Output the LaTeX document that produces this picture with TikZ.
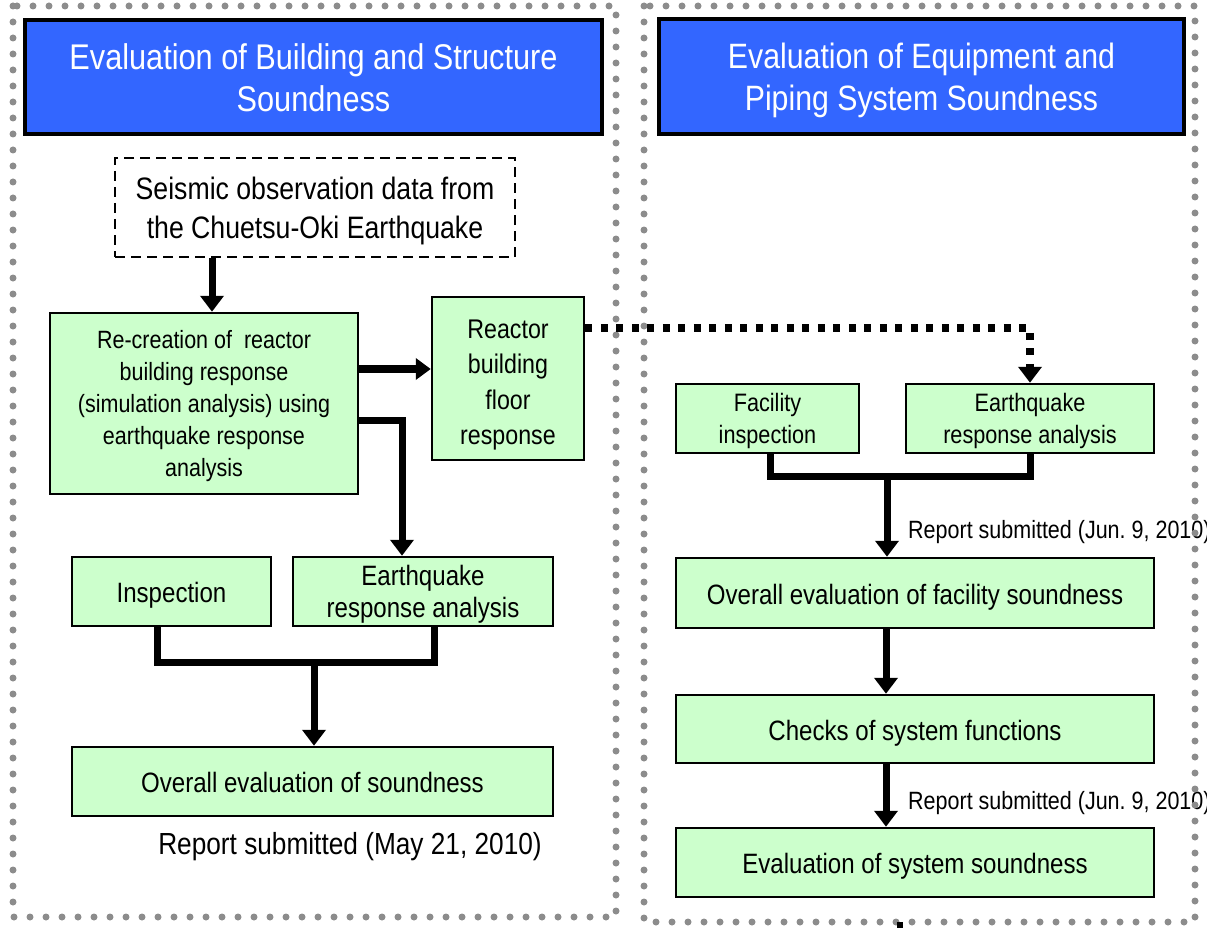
\documentclass[tikz,border=0pt]{standalone}
\usepackage{fontspec}
\setmainfont{Liberation Sans}[FakeStretch=0.86]
\usetikzlibrary{arrows.meta,calc}
\definecolor{titleblue}{HTML}{3366FF}
\definecolor{boxgreen}{HTML}{CCFFCC}
\definecolor{dotgrey}{HTML}{8C8C8C}
\frenchspacing
\tikzset{
  frame/.style={draw=dotgrey,line width=7pt,line cap=round,dash pattern=on 0pt off 16pt},
  titlebox/.style={draw=black,line width=4pt,fill=titleblue,text=white,align=center,inner sep=0pt,
    font=\fontsize{35.7}{42.5}\selectfont},
  gbox/.style={draw=black,line width=2.5pt,fill=boxgreen,align=center,inner sep=0pt,
    font=\fontsize{26}{32}\selectfont},
  onel/.style={text height=22pt,text depth=0pt},
  dbox/.style={draw=black,line width=2.5pt,dash pattern=on 10pt off 6pt,align=center,inner sep=0pt,
    font=\fontsize{31}{39}\selectfont},
  conn/.style={line width=7pt,line join=miter,line cap=butt},
  arr/.style={conn,-{Triangle[width=23pt,length=16pt]}},
  dotarr/.style={line width=7.5pt,dash pattern=on 7pt off 8.5pt,line cap=butt,
    -{Triangle[width=23pt,length=16pt]}},
  lbl/.style={inner sep=0pt,font=\fontsize{25}{30}\selectfont},
}
\begin{document}
\begin{tikzpicture}[x=1pt,y=-1pt]
\useasboundingbox (0,0) rectangle (1207,928);
% report labels (under frames)
\node[lbl,anchor=west] (r1) at (908,532) {Report submitted (Jun. 9, 2010)};
\node[lbl,anchor=west] (r2) at (908,803) {Report submitted (Jun. 9, 2010)};
\node[lbl,font=\fontsize{30.5}{34}\selectfont] (r3) at (350,847) {Report submitted (May 21, 2010)};
% frames
\draw[frame] (13,6) rectangle (616,917);
\draw[frame] (644,6) rectangle (1195,922);
% titles
\node[titlebox,minimum width=577pt,minimum height=114pt] (t1) at (313.5,77.5) {Evaluation of Building and Structure\\Soundness};
\node[titlebox,font=\fontsize{35.2}{42.5}\selectfont,minimum width=525pt,minimum height=115pt] (t2) at (921.5,76.5) {Evaluation of Equipment and\\\smash{Piping System Soundness}};
% left column
\node[dbox,minimum width=400pt,minimum height=99pt] (seis) at (315,207.5) {Seismic observation data from\\\smash{the Chuetsu-Oki Earthquake}};
\node[gbox,font=\fontsize{25}{32}\selectfont,minimum width=308pt,minimum height=181pt] (rec) at (204,403.5)
  {Re-creation of \ reactor\\building response\\(simulation analysis) using\\earthquake response\\\smash{analysis}};
\node[gbox,font=\fontsize{27}{35.5}\selectfont,minimum width=152pt,minimum height=163pt] (reac) at (508,378.5)
  {\rule{0pt}{25.5pt}Reactor\\building\\floor\\\smash{response}};
\node[gbox,onel,font=\fontsize{28}{32}\selectfont,minimum width=199pt,minimum height=69pt] (insp) at (171.5,591.5) {Inspection};
\node[gbox,font=\fontsize{28}{32}\selectfont,minimum width=260pt,minimum height=69pt] (eq1) at (423,591.5) {Earthquake\\\smash{response analysis}};
\node[gbox,onel,font=\fontsize{28}{32}\selectfont,minimum width=481pt,minimum height=69pt] (ov1) at (312.5,781.5) {Overall evaluation of soundness};
% right column
\node[gbox,font=\fontsize{25.2}{32}\selectfont,minimum width=183pt,minimum height=69pt] (fac) at (767.5,418.5) {Facility\\\smash{inspection}};
\node[gbox,font=\fontsize{25.2}{32}\selectfont,minimum width=248pt,minimum height=69pt] (eq2) at (1030,418.5) {Earthquake\\\smash{response analysis}};
\node[gbox,onel,font=\fontsize{28}{32}\selectfont,minimum width=478pt,minimum height=70pt] (ov2) at (915,593) {Overall evaluation of facility soundness};
\node[gbox,onel,font=\fontsize{28}{32}\selectfont,minimum width=478pt,minimum height=68pt] (chk) at (915,729) {Checks of system functions};
\node[gbox,onel,font=\fontsize{28}{32}\selectfont,minimum width=478pt,minimum height=69pt] (evs) at (915,862.5) {Evaluation of system soundness};
% connectors left
\coordinate (a1) at (212,0);
\draw[arr] (seis.south -| a1) -- (rec.north -| a1);
\coordinate (h1) at (0,369);
\draw[arr,line width=8pt,-{Triangle[width=21pt,length=15pt]}] (rec.east |- h1) -- (reac.west |- h1);
\coordinate (e1) at (402,420);
\draw[arr] (rec.east |- e1) -| (eq1.north -| e1);
\coordinate (jl) at (157,662);
\coordinate (jr) at (434,662);
\coordinate (jm) at (314,662);
\draw[conn] (insp.south -| jl) -- (jl) -- (jr) -- (eq1.south -| jr);
\draw[arr] (jm) -- (ov1.north -| jm);
% dotted connector
\coordinate (d1) at (1030,328);
\draw[dotarr] (reac.east |- d1) -| (eq2.north);
% connectors right
\coordinate (kl) at (770,476);
\coordinate (kr) at (1030,476);
\coordinate (km) at (887,476);
\draw[conn] (fac.south -| kl) -- (kl) -- (kr) -- (eq2.south -| kr);
\draw[arr] (km) -- (ov2.north -| km);
\coordinate (m2) at (886,0);
\draw[arr] (ov2.south -| m2) -- (chk.north -| m2);
\draw[arr] (chk.south -| m2) -- (evs.north -| m2);
% stub at the bottom edge
\fill[black] (897,922) rectangle (903,928);
\end{tikzpicture}
\end{document}
